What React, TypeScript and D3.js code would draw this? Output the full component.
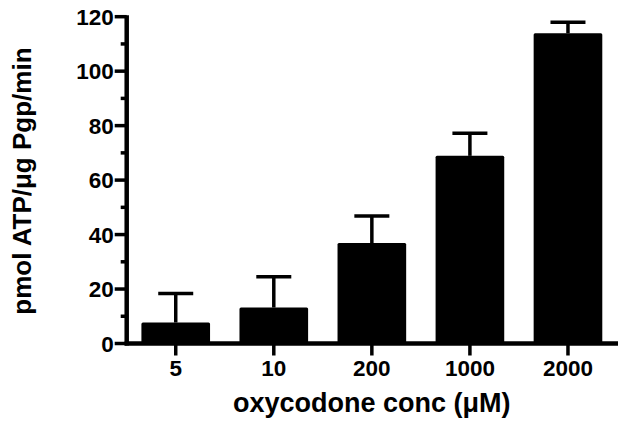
import React from "react";
import { scaleBand, scaleLinear, range } from "d3";

// oxycodone concentration (uM) on the x axis
const concs = ["5", "10", "200", "1000", "2000"];
// mean ATPase activity, pmol ATP/ug Pgp/min
const means = [7.7, 13.2, 36.9, 68.9, 113.9];
// upper error bar length (SD)
const errs = [10.7, 11.3, 9.9, 8.3, 4.1];
const majorTicks = [0, 20, 40, 60, 80, 100, 120];
const minorTicks = [10, 30, 50, 70, 90, 110];

const width = 629;
const height = 434;
const left = 126.7;
const right = 617;
const top = 16.7;
const bottom = 343.5;
const font = "'Liberation Sans', Arial, Helvetica, sans-serif";

const App = () => {
  const x = scaleBand<string>()
    .domain(concs)
    .range([left, right])
    .paddingInner(0.3)
    .paddingOuter(0.15);
  const y = scaleLinear().domain([0, 120]).range([bottom, top]);
  const capW = 35;

  return (
    <div style={{ position: "absolute", left: 0, top: 0 }}>
      <svg width={width} height={height} style={{ display: "block", background: "#fff" }}>
        {/* bars + error bars */}
        {range(concs.length).map((i) => {
          const cx = x(concs[i])! + x.bandwidth() / 2;
          const yTop = y(means[i] + errs[i]);
          return (
            <g key={i}>
              <rect
                x={x(concs[i])}
                y={y(means[i])}
                width={x.bandwidth()}
                height={bottom - y(means[i])}
                rx={1.5}
                fill="#000"
              />
              <line x1={cx} x2={cx} y1={y(means[i])} y2={yTop} stroke="#000" strokeWidth={3.5} />
              <line x1={cx - capW / 2} x2={cx + capW / 2} y1={yTop} y2={yTop} stroke="#000" strokeWidth={3.5} />
            </g>
          );
        })}

        {/* y axis */}
        <line x1={left} x2={left} y1={top - 1.5} y2={bottom + 2} stroke="#000" strokeWidth={4.5} />
        {majorTicks.map((t) => (
          <g key={t}>
            <line x1={left - 12} x2={left} y1={y(t)} y2={y(t)} stroke="#000" strokeWidth={3.5} />
            <text
              x={left - 13}
              y={y(t)}
              dy="0.37em"
              textAnchor="end"
              fontFamily={font}
              fontWeight="bold"
              fontSize={22.5}
            >
              {t}
            </text>
          </g>
        ))}
        {minorTicks.map((t) => (
          <line key={t} x1={left - 6} x2={left} y1={y(t)} y2={y(t)} stroke="#000" strokeWidth={3.5} />
        ))}

        {/* x axis */}
        <line x1={left - 2} x2={right + 1} y1={bottom} y2={bottom} stroke="#000" strokeWidth={4.5} />
        {concs.map((c) => {
          const cx = x(c)! + x.bandwidth() / 2;
          return (
            <g key={c}>
              <line x1={cx} x2={cx} y1={bottom} y2={bottom + 12} stroke="#000" strokeWidth={3.5} />
              <text
                x={cx}
                y={376}
                textAnchor="middle"
                fontFamily={font}
                fontWeight="bold"
                fontSize={22.5}
              >
                {c}
              </text>
            </g>
          );
        })}

        {/* axis titles */}
        <text
          x={(left + right) / 2}
          y={412}
          textAnchor="middle"
          fontFamily={font}
          fontWeight="bold"
          fontSize={27}
        >
          oxycodone conc (μM)
        </text>
        <text
          transform={`translate(31,${(top + bottom) / 2 + 1}) rotate(-90)`}
          textAnchor="middle"
          fontFamily={font}
          fontWeight="bold"
          fontSize={26}
        >
          pmol ATP/μg Pgp/min
        </text>
      </svg>
    </div>
  );
};

export default App;
